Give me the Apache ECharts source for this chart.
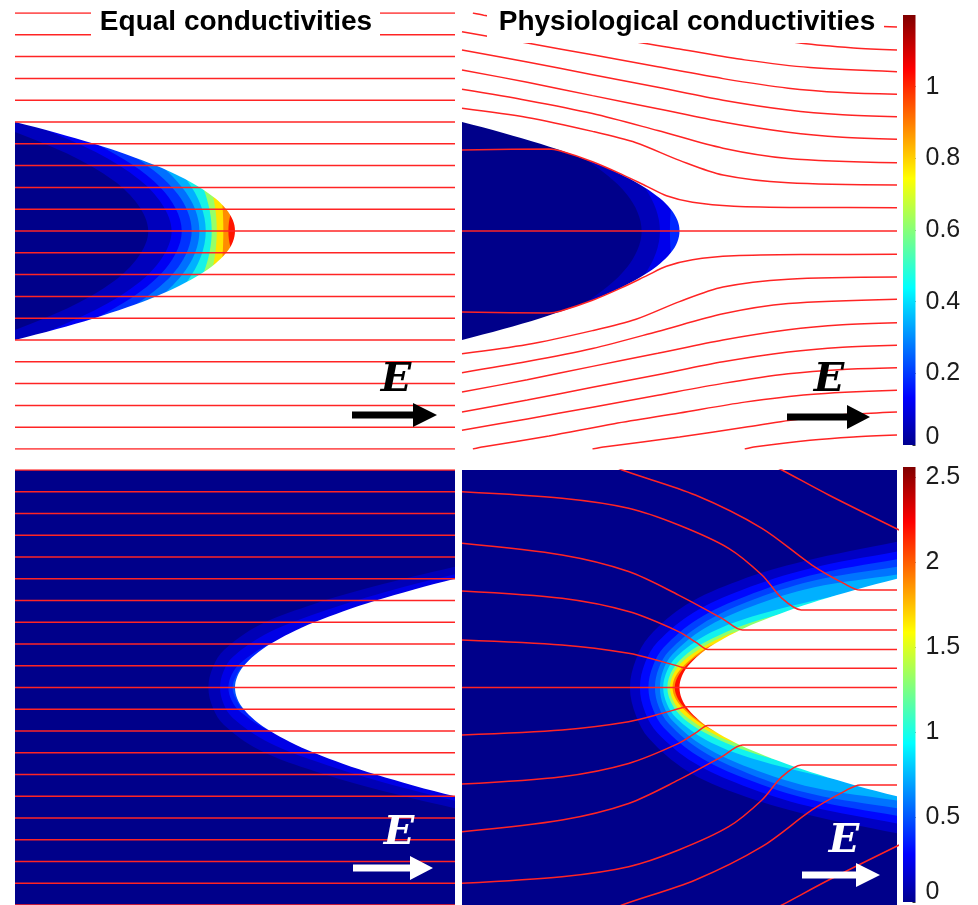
<!DOCTYPE html>
<html>
<head>
<meta charset="utf-8">
<title>Field lines near a parabolic tip</title>
<script src="https://cdn.jsdelivr.net/npm/echarts@6/dist/echarts.min.js"></script>
<style>
  html, body { margin: 0; padding: 0; background: #fff; }
  #main { width: 978px; height: 905px; }
</style>
</head>
<body>
<div id="main"></div>
<script>
// every panel uses the same units: x and y run from -1 to 1,
// the tip of the parabolic interface sits at (0, 0)

// interface, top row (tissue region opens to the left)
var topEdge = [[-1.21,0.55],[-1,0.5],[-0.81,0.45],[-0.64,0.4],[-0.49,0.35],[-0.36,0.3],[-0.25,0.25],[-0.16,0.2],[-0.09,0.15],[-0.04,0.1],[-0.01,0.05],[0,0],
  [-0.01,-0.05],[-0.04,-0.1],[-0.09,-0.15],[-0.16,-0.2],[-0.25,-0.25],[-0.36,-0.3],[-0.49,-0.35],[-0.64,-0.4],[-0.81,-0.45],[-1,-0.5],[-1.21,-0.55]];
// interface, bottom row (empty region opens to the right)
var bottomEdge = [[1.21,0.55],[1,0.5],[0.81,0.45],[0.64,0.4],[0.49,0.35],[0.36,0.3],[0.25,0.25],[0.16,0.2],[0.09,0.15],[0.04,0.1],[0.01,0.05],[0,0],
  [0.01,-0.05],[0.04,-0.1],[0.09,-0.15],[0.16,-0.2],[0.25,-0.25],[0.36,-0.3],[0.49,-0.35],[0.64,-0.4],[0.81,-0.45],[1,-0.5],[1.21,-0.55]];

// straight field lines (equal conductivities)
var tlLineY = [1, 0.9, 0.8, 0.7, 0.6, 0.5, 0.4, 0.3, 0.2, 0.1, 0, -0.1, -0.2, -0.3, -0.4, -0.5, -0.6, -0.7, -0.8, -0.9, -1];
var blLineY = [1, 0.9, 0.8, 0.7, 0.6, 0.5, 0.4, 0.3, 0.2, 0.1, 0, -0.1, -0.2, -0.3, -0.4, -0.5, -0.6, -0.7, -0.8, -0.9, -1];

// filled contour edges, highest level first
var tlContours = [
  [[-0.012,0.102],[-0.021,0.073],[-0.028,0.037],[-0.03,0],[-0.028,-0.037],[-0.021,-0.073],[-0.012,-0.102]],
  [[-0.061,0.167],[-0.057,0.119],[-0.054,0.06],[-0.053,0],[-0.054,-0.06],[-0.057,-0.119],[-0.061,-0.167]],
  [[-0.114,0.22],[-0.099,0.157],[-0.087,0.079],[-0.083,0],[-0.087,-0.079],[-0.099,-0.157],[-0.114,-0.22]],
  [[-0.175,0.263],[-0.141,0.188],[-0.115,0.094],[-0.106,0],[-0.115,-0.094],[-0.141,-0.188],[-0.175,-0.263]],
  [[-0.302,0.328],[-0.219,0.234],[-0.155,0.117],[-0.133,0],[-0.155,-0.117],[-0.219,-0.234],[-0.302,-0.328]],
  [[-0.46,0.392],[-0.314,0.28],[-0.2,0.14],[-0.162,0],[-0.2,-0.14],[-0.314,-0.28],[-0.46,-0.392]],
  [[-0.681,0.466],[-0.444,0.333],[-0.259,0.167],[-0.197,0],[-0.259,-0.167],[-0.444,-0.333],[-0.681,-0.466]],
  [[-0.983,0.552],[-0.62,0.394],[-0.337,0.197],[-0.242,0],[-0.337,-0.197],[-0.62,-0.394],[-0.983,-0.552]],
  [[-1.403,0.648],[-0.857,0.463],[-0.43,0.232],[-0.288,0],[-0.43,-0.232],[-0.857,-0.463],[-1.403,-0.648]],
  [[-1.58,0.636],[-1,0.454],[-0.546,0.227],[-0.394,0],[-0.546,-0.227],[-1,-0.454],[-1.58,-0.636]]
];
var trContours = [
  [[-0.036,0.14],[-0.04,0.1],[-0.043,0.05],[-0.044,0],[-0.043,-0.05],[-0.04,-0.1],[-0.036,-0.14]],
  [[-0.227,0.28],[-0.16,0.2],[-0.108,0.1],[-0.09,0],[-0.108,-0.1],[-0.16,-0.2],[-0.227,-0.28]],
  [[-0.688,0.462],[-0.436,0.33],[-0.24,0.165],[-0.174,0],[-0.24,-0.165],[-0.436,-0.33],[-0.688,-0.462]]
];
var blContours = [
  [[1.3,0.5],[0.3,0.22],[0.04,0.1],[0.004,0.052],[-0.011,0],[0.004,-0.052],[0.04,-0.1],[0.3,-0.22],[1.3,-0.5]],
  [[1.3,0.5],[0.6,0.35],[0.16,0.2],[0.024,0.112],[-0.015,0.06],[-0.03,0],[-0.015,-0.06],[0.024,-0.112],[0.16,-0.2],[0.6,-0.35],[1.3,-0.5]],
  [[1.3,0.58],[0.995,0.519],[0.633,0.424],[0.347,0.332],[0.134,0.242],[-0.01,0.14],[-0.052,0.075],[-0.068,0],
   [-0.052,-0.075],[-0.01,-0.14],[0.134,-0.242],[0.347,-0.332],[0.633,-0.424],[0.995,-0.519],[1.3,-0.58]],
  [[1.3,0.62],[0.99,0.553],[0.621,0.462],[0.329,0.374],[0.107,0.285],[-0.05,0.172],[-0.1,0.094],[-0.121,0],
   [-0.1,-0.094],[-0.05,-0.172],[0.107,-0.285],[0.329,-0.374],[0.621,-0.462],[0.99,-0.553],[1.3,-0.62]]
];
var brContours = [
  [[1.3,0.5],[0.45,0.3],[0.09,0.15],[0.03,0.1],[-0.008,0.05],[-0.022,0],[-0.008,-0.05],[0.03,-0.1],[0.09,-0.15],[0.45,-0.3],[1.3,-0.5]],
  [[1.3,0.5],[0.6,0.35],[0.16,0.2],[0.09,0.16],[0.03,0.11],[-0.016,0.055],[-0.032,0],[-0.016,-0.055],[0.03,-0.11],[0.09,-0.16],[0.16,-0.2],[0.6,-0.35],[1.3,-0.5]],
  [[1.3,0.52],[0.8,0.4],[0.27,0.26],[0.16,0.215],[0.06,0.155],[-0.012,0.09],[-0.044,0],
   [-0.012,-0.09],[0.06,-0.155],[0.16,-0.215],[0.27,-0.26],[0.8,-0.4],[1.3,-0.52]],
  [[1.3,0.55],[1.0,0.48],[0.436,0.33],[0.29,0.285],[0.15,0.225],[0.04,0.16],[-0.03,0.085],[-0.056,0],
   [-0.03,-0.085],[0.04,-0.16],[0.15,-0.225],[0.29,-0.285],[0.436,-0.33],[1.0,-0.48],[1.3,-0.55]],
  [[1.3,0.55],[0.706,0.42],[0.33,0.325],[0.12,0.24],[-0.015,0.14],[-0.058,0.075],[-0.075,0],
   [-0.058,-0.075],[-0.015,-0.14],[0.12,-0.24],[0.33,-0.325],[0.706,-0.42],[1.3,-0.55]],
  [[1.3,0.57],[1,0.52],[0.615,0.46],[0.325,0.37],[0.112,0.27],[-0.03,0.155],[-0.074,0.083],[-0.09,0],
   [-0.074,-0.083],[-0.03,-0.155],[0.112,-0.27],[0.325,-0.37],[0.615,-0.46],[1,-0.52],[1.3,-0.57]],
  [[1.3,0.6],[1,0.555],[0.61,0.49],[0.316,0.395],[0.1,0.29],[-0.048,0.168],[-0.095,0.09],[-0.113,0],
   [-0.095,-0.09],[-0.048,-0.168],[0.1,-0.29],[0.316,-0.395],[0.61,-0.49],[1,-0.555],[1.3,-0.6]],
  [[1.3,0.64],[1,0.59],[0.6,0.515],[0.305,0.42],[0.085,0.315],[-0.072,0.185],[-0.122,0.1],[-0.143,0],
   [-0.122,-0.1],[-0.072,-0.185],[0.085,-0.315],[0.305,-0.42],[0.6,-0.515],[1,-0.59],[1.3,-0.64]],
  [[1.3,0.68],[1,0.625],[0.59,0.545],[0.29,0.45],[0.065,0.345],[-0.1,0.21],[-0.158,0.115],[-0.182,0],
   [-0.158,-0.115],[-0.1,-0.21],[0.065,-0.345],[0.29,-0.45],[0.59,-0.545],[1,-0.625],[1.3,-0.68]],
  [[1.3,0.73],[1,0.67],[0.57,0.58],[0.27,0.49],[0.03,0.38],[-0.14,0.235],[-0.2,0.13],[-0.228,0],
   [-0.2,-0.13],[-0.14,-0.235],[0.03,-0.38],[0.27,-0.49],[0.57,-0.58],[1,-0.67],[1.3,-0.73]]
];

// curved field lines (physiological conductivities)
var trStreams = [
  [[-1,0],[1,0]],
  [[-1,0.372],[-0.6,0.376],[-0.55,0.368],[-0.4,0.318],[-0.265,0.26],[-0.15,0.205],[-0.06,0.162],[0.06,0.132],[0.25,0.114],[0.6,0.108],[1,0.107]],
  [[-1,0.563],[-0.7,0.521],[-0.4,0.457],[-0.2,0.405],[0,0.324],[0.2,0.257],[0.5,0.221],[1,0.211]],
  [[-1,0.65],[-0.7,0.599],[-0.4,0.539],[-0.1,0.461],[0.2,0.38],[0.5,0.333],[1,0.313]],
  [[-1,0.739],[-0.7,0.682],[-0.4,0.621],[-0.1,0.561],[0.2,0.5],[0.5,0.453],[0.75,0.43],[1,0.421]],
  [[-1,0.83],[-0.7,0.775],[-0.4,0.717],[-0.1,0.659],[0.2,0.6],[0.5,0.555],[0.75,0.533],[1,0.524]],
  [[-1,0.914],[-0.7,0.862],[-0.4,0.808],[-0.1,0.753],[0.2,0.699],[0.5,0.655],[0.75,0.635],[1,0.627]],
  [[-0.95,1.0],[-0.9,0.99],[-0.6,0.94],[-0.3,0.884],[0,0.835],[0.3,0.785],[0.6,0.75],[1,0.731]],
  [[-0.4,1.0],[-0.34,0.99],[0,0.945],[0.3,0.9],[0.56,0.861],[0.8,0.84],[1,0.83]],
  [[0.3,1.0],[0.35,0.99],[0.6,0.96],[0.8,0.945],[1,0.936]],
  [[-1,-0.372],[-0.6,-0.376],[-0.55,-0.368],[-0.4,-0.318],[-0.265,-0.26],[-0.15,-0.205],[-0.06,-0.162],[0.06,-0.132],[0.25,-0.114],[0.6,-0.108],[1,-0.107]],
  [[-1,-0.563],[-0.7,-0.521],[-0.4,-0.457],[-0.2,-0.405],[0,-0.324],[0.2,-0.257],[0.5,-0.221],[1,-0.211]],
  [[-1,-0.65],[-0.7,-0.599],[-0.4,-0.539],[-0.1,-0.461],[0.2,-0.38],[0.5,-0.333],[1,-0.313]],
  [[-1,-0.739],[-0.7,-0.682],[-0.4,-0.621],[-0.1,-0.561],[0.2,-0.5],[0.5,-0.453],[0.75,-0.43],[1,-0.421]],
  [[-1,-0.83],[-0.7,-0.775],[-0.4,-0.717],[-0.1,-0.659],[0.2,-0.6],[0.5,-0.555],[0.75,-0.533],[1,-0.524]],
  [[-1,-0.914],[-0.7,-0.862],[-0.4,-0.808],[-0.1,-0.753],[0.2,-0.699],[0.5,-0.655],[0.75,-0.635],[1,-0.627]],
  [[-0.95,-1.0],[-0.9,-0.99],[-0.6,-0.94],[-0.3,-0.884],[0,-0.835],[0.3,-0.785],[0.6,-0.75],[1,-0.731]],
  [[-0.4,-1.0],[-0.34,-0.99],[0,-0.945],[0.3,-0.9],[0.56,-0.861],[0.8,-0.84],[1,-0.83]],
  [[0.3,-1.0],[0.35,-0.99],[0.6,-0.96],[0.8,-0.945],[1,-0.936]]
];
var brStreams = [
  [[-1,0],[1,0]],
  [[-1,0.218],[-0.54,0.195],[-0.234,0.157],[-0.08,0.119],[0.011,0.093],[0.035,0.088],[0.1,0.088],[1,0.088]],
  [[-1,0.444],[-0.54,0.41],[-0.234,0.349],[-0.004,0.257],[0.08,0.205],[0.13,0.175],[0.2,0.175],[1,0.175]],
  [[-1,0.663],[-0.54,0.609],[-0.234,0.533],[-0.004,0.425],[0.195,0.318],[0.29,0.264],[0.36,0.264],[1,0.264]],
  [[-1,0.9],[-0.54,0.87],[-0.234,0.824],[-0.004,0.747],[0.226,0.64],[0.379,0.517],[0.471,0.41],[0.56,0.356],[0.63,0.356],[1,0.356]],
  [[-0.3,1.02],[-0.264,1.0],[0.073,0.885],[0.379,0.732],[0.609,0.563],[0.762,0.475],[0.83,0.448],[0.9,0.448],[1,0.448]],
  [[0.43,1.02],[0.471,1.0],[0.686,0.885],[1.01,0.724]],
  [[-1,-0.218],[-0.54,-0.195],[-0.234,-0.157],[-0.08,-0.119],[0.011,-0.093],[0.035,-0.088],[0.1,-0.088],[1,-0.088]],
  [[-1,-0.444],[-0.54,-0.41],[-0.234,-0.349],[-0.004,-0.257],[0.08,-0.205],[0.13,-0.175],[0.2,-0.175],[1,-0.175]],
  [[-1,-0.663],[-0.54,-0.609],[-0.234,-0.533],[-0.004,-0.425],[0.195,-0.318],[0.29,-0.264],[0.36,-0.264],[1,-0.264]],
  [[-1,-0.9],[-0.54,-0.87],[-0.234,-0.824],[-0.004,-0.747],[0.226,-0.64],[0.379,-0.517],[0.471,-0.41],[0.56,-0.356],[0.63,-0.356],[1,-0.356]],
  [[-0.3,-1.02],[-0.264,-1.0],[0.073,-0.885],[0.379,-0.732],[0.609,-0.563],[0.762,-0.475],[0.83,-0.448],[0.9,-0.448],[1,-0.448]],
  [[0.43,-1.02],[0.471,-1.0],[0.686,-0.885],[1.01,-0.724]]
];

// colour bar ranges and tick steps
var cbTopRange = [0, 1.2];
var cbTopStep = 0.2;
var cbBottomRange = [0, 2.56];
var cbBottomStep = 0.5;

// band colours (first entry = highest band, last = lowest)
var tlFills = ['#ff1400', '#ff8c00', '#ffe400', '#96ff68', '#16f2e8', '#00b0ff', '#0070ff', '#0032ff', '#0000f4', '#0000bc', '#00008a'];
var trFills = ['#0028ff', '#0000ec', '#0000b8', '#00008a'];
var blFills = ['#0050ff', '#0022ff', '#0000e6', '#0000b6', '#00008a'];
var brFills = ['#ff1000', '#ff8c00', '#ffe800', '#8cff70', '#12f2ee', '#00b0ff', '#0074ff', '#0040ff', '#0008ff', '#0000c4', '#00008a'];
var jetStops = [
  { offset: 0, color: '#00008f' }, { offset: 0.11, color: '#0000ff' }, { offset: 0.365, color: '#00ffff' },
  { offset: 0.62, color: '#ffff00' }, { offset: 0.873, color: '#ff0000' }, { offset: 1, color: '#800000' }
];
var lineRed = '#ff2424';

var bigRect = [[-2, 2], [2, 2], [2, -2], [-2, -2]];

function topShapes(curves, fills) {
  var shapes = [{ pts: bigRect, fill: fills[0], smooth: 0 }];
  curves.forEach(function (c, i) {
    shapes.push({ pts: [[-2, 2]].concat(c, [[-2, -2], [-2, 0]]), fill: fills[i + 1], smooth: 0.35 });
  });
  shapes.push({ pts: bigRect.concat(topEdge.slice().reverse()), fill: '#ffffff', smooth: 0.35 });
  return shapes;
}

function bottomShapes(curves, fills) {
  var shapes = [{ pts: bigRect, fill: fills[0], smooth: 0 }];
  curves.forEach(function (c, i) {
    shapes.push({ pts: [[-2, 2], [2, 2]].concat(c, [[2, -2], [-2, -2], [-2, 0]]), fill: fills[i + 1], smooth: 0.35 });
  });
  shapes.push({ pts: [[2, 0.6]].concat(bottomEdge, [[2, -0.6]]), fill: '#ffffff', smooth: 0.35 });
  return shapes;
}

function fillSeries(idx, shapes) {
  return {
    type: 'custom', xAxisIndex: idx, yAxisIndex: idx, clip: true, silent: true, z: 1,
    data: shapes.map(function (s, i) { return [i, 0]; }),
    renderItem: function (params, api) {
      var s = shapes[params.dataIndex];
      return {
        type: 'polygon',
        shape: { points: s.pts.map(function (p) { return api.coord(p); }), smooth: s.smooth },
        style: { fill: s.fill }
      };
    }
  };
}

function lineSeries(idx, pts) {
  return {
    type: 'line', xAxisIndex: idx, yAxisIndex: idx, data: pts, showSymbol: false, symbol: 'none',
    smooth: 0.3, silent: true, z: 3, lineStyle: { color: lineRed, width: 1.5 }
  };
}

var panels = [
  { left: 15, top: 13, width: 440, height: 436 },
  { left: 462, top: 13, width: 435, height: 436 },
  { left: 15, top: 470, width: 440, height: 435 },
  { left: 462, top: 470, width: 435, height: 435 }
];

var series = [
  fillSeries(0, topShapes(tlContours, tlFills)),
  fillSeries(1, topShapes(trContours, trFills)),
  fillSeries(2, bottomShapes(blContours, blFills)),
  fillSeries(3, bottomShapes(brContours, brFills))
];
tlLineY.forEach(function (y) { series.push(lineSeries(0, [[-1, y], [1, y]])); });
blLineY.forEach(function (y) { series.push(lineSeries(2, [[-1, y], [1, y]])); });
trStreams.forEach(function (s) { series.push(lineSeries(1, s)); });
brStreams.forEach(function (s) { series.push(lineSeries(3, s)); });

// colour bars
series.push({
  type: 'bar', xAxisIndex: 4, yAxisIndex: 4, barWidth: '100%', silent: true, data: [cbTopRange[1]],
  itemStyle: { color: new echarts.graphic.LinearGradient(0, 1, 0, 0, jetStops) }
});
series.push({
  type: 'bar', xAxisIndex: 5, yAxisIndex: 5, barWidth: '100%', silent: true, data: [cbBottomRange[1]],
  itemStyle: { color: new echarts.graphic.LinearGradient(0, 1, 0, 0, jetStops) }
});

var xAxes = panels.map(function (p, i) {
  return { gridIndex: i, type: 'value', min: -1, max: 1, show: false };
});
var yAxes = panels.map(function (p, i) {
  return { gridIndex: i, type: 'value', min: -1, max: 1, show: false };
});
function cbAxis(idx, range, step, zeroPad) {
  return {
    gridIndex: idx, type: 'value', position: 'right', min: range[0], max: range[1], interval: step,
    axisLine: { show: false }, splitLine: { show: false },
    axisTick: { show: true, inside: true, length: 3, lineStyle: { color: '#333', width: 1 } },
    axisLabel: {
      showMaxLabel: false, margin: 10, color: '#1c1c1c', fontSize: 25, fontFamily: 'Liberation Sans',
      formatter: function (v) { return v === 0 ? '{z|0}' : String(v); },
      rich: { z: { fontSize: 25, fontFamily: 'Liberation Sans', color: '#1c1c1c', padding: [0, 0, zeroPad, 0] } }
    }
  };
}
xAxes.push({ gridIndex: 4, type: 'category', data: ['c'], show: false });
xAxes.push({ gridIndex: 5, type: 'category', data: ['c'], show: false });
yAxes.push(cbAxis(4, cbTopRange, cbTopStep, 16));
yAxes.push(cbAxis(5, cbBottomRange, cbBottomStep, 20));

var grids = panels.slice();
grids.push({ left: 903, top: 15, width: 12.5, height: 430 });
grids.push({ left: 903, top: 467, width: 12.5, height: 435 });

function arrow(x0, xh, xt, yc, color) {
  return {
    type: 'polygon', z: 20, silent: true,
    shape: { points: [[x0, yc - 3.5], [xh, yc - 3.5], [xh, yc - 12], [xt, yc], [xh, yc + 12], [xh, yc + 3.5], [x0, yc + 3.5]] },
    style: { fill: color }
  };
}
function eLabel(x, y, color) {
  return {
    type: 'text', x: x, y: y, z: 20, silent: true,
    style: { text: 'E', fill: color, font: 'italic bold 40px "DejaVu Serif"', align: 'center', verticalAlign: 'middle', textAlign: 'center', textVerticalAlign: 'middle' }
  };
}
function title(x, y, text) {
  return {
    type: 'text', x: x, y: y, z: 21, silent: true,
    style: { text: text, fill: '#000', font: 'bold 28px "Liberation Sans"', align: 'center', verticalAlign: 'middle', textAlign: 'center', textVerticalAlign: 'middle' }
  };
}

var chart = echarts.init(document.getElementById('main'));
chart.setOption({
  animation: false,
  backgroundColor: '#ffffff',
  textStyle: { fontFamily: 'Liberation Sans' },
  grid: grids,
  xAxis: xAxes,
  yAxis: yAxes,
  series: series,
  graphic: { elements: [
    { type: 'rect', z: 20, silent: true, shape: { x: 91, y: 0, width: 289, height: 43 }, style: { fill: '#fff' } },
    { type: 'rect', z: 20, silent: true, shape: { x: 487, y: 0, width: 397, height: 43 }, style: { fill: '#fff' } },
    title(236, 22, 'Equal conductivities'),
    title(687, 22, 'Physiological conductivities'),
    eLabel(396, 381, '#000'),
    arrow(352, 413, 437, 415, '#000'),
    eLabel(829, 381, '#000'),
    arrow(787, 847, 870, 417, '#000'),
    eLabel(399, 834, '#fff'),
    arrow(353, 410, 433, 868, '#fff'),
    eLabel(844, 842, '#fff'),
    arrow(802, 856, 880, 875, '#fff')
  ] }
});
</script>
</body>
</html>
